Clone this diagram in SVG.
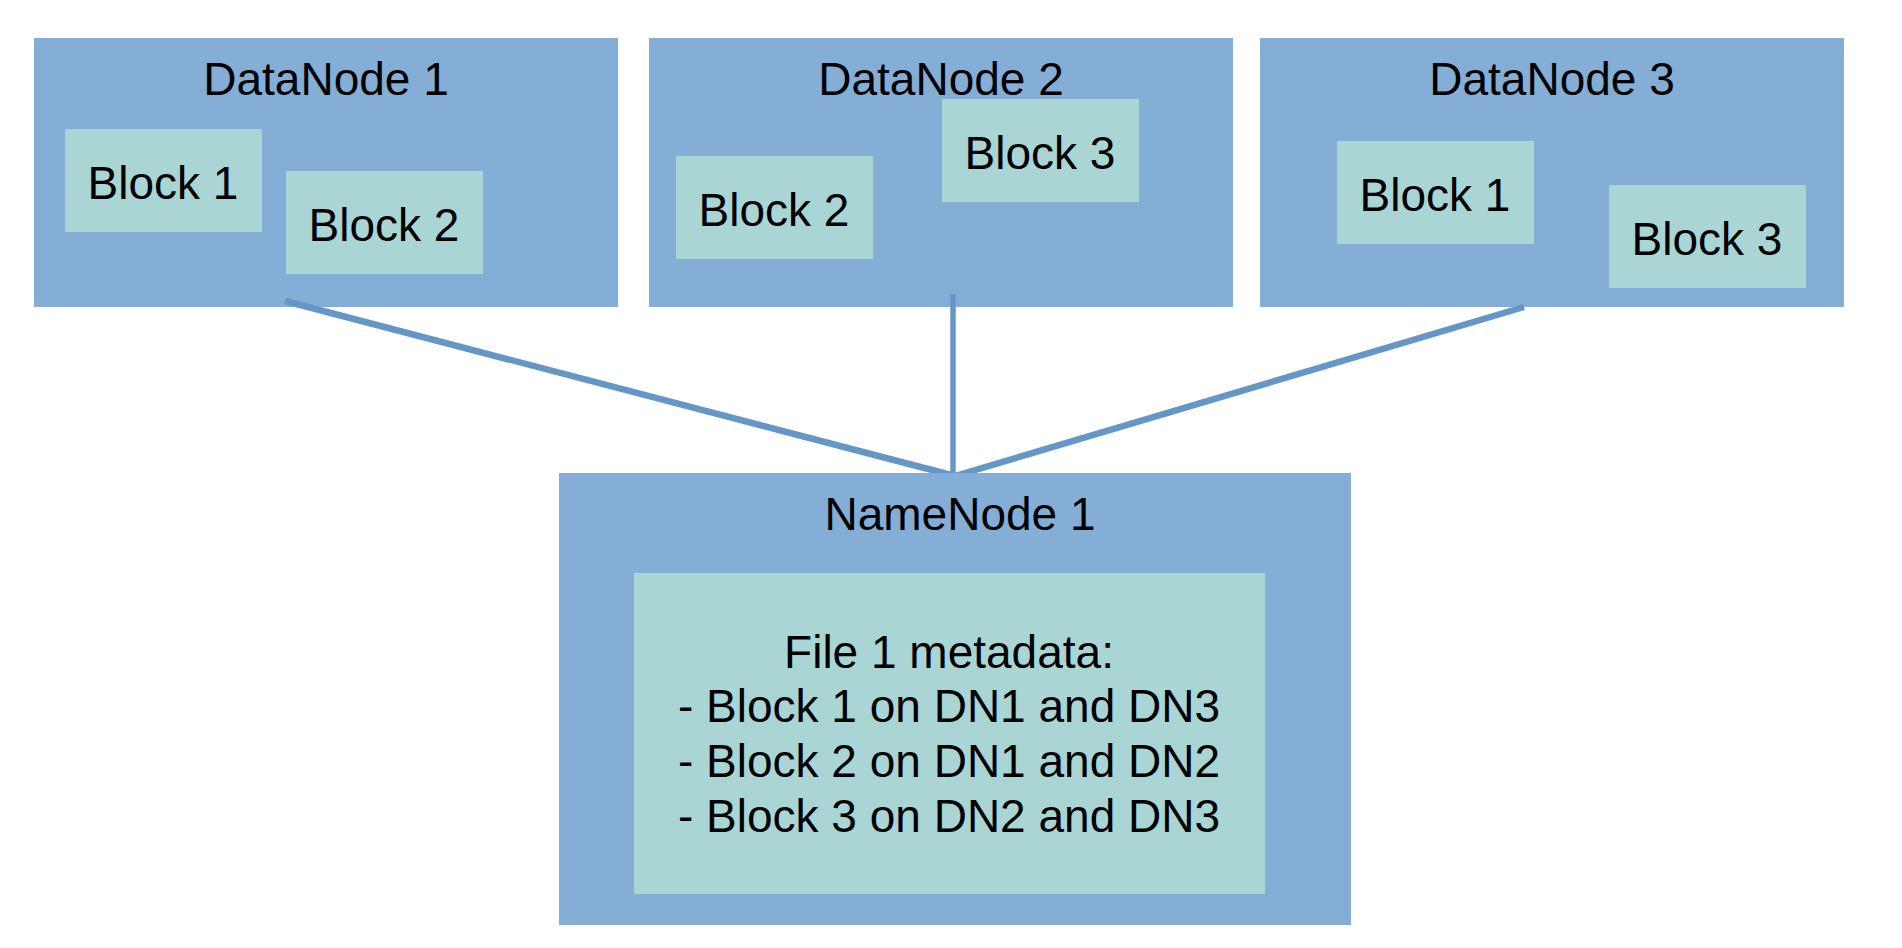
<svg xmlns="http://www.w3.org/2000/svg" width="1902" height="948" viewBox="0 0 1902 948">
<style>
.node{fill:#84AED6;}
.blk{fill:#A9D5D5;}
.t{font-family:"Liberation Sans",Arial,sans-serif;font-size:46px;fill:#000;text-anchor:middle;}
.conn{stroke:#6497C8;stroke-width:6.5;fill:none;}
.vconn{stroke:#6497C8;stroke-width:5.5;fill:none;}
</style>
<rect width="1902" height="948" fill="#fff"/>
<g id="datanode1">
<rect class="node" x="34" y="38" width="584" height="269"/>
<text class="t" x="326" y="95">DataNode 1</text>
<rect class="blk" x="65" y="129" width="197" height="103"/>
<text class="t" x="163" y="199">Block 1</text>
<rect class="blk" x="286" y="171" width="197" height="103"/>
<text class="t" x="384" y="241">Block 2</text>
</g>
<g id="datanode2">
<rect class="node" x="649" y="38" width="584" height="269"/>
<text class="t" x="941" y="95">DataNode 2</text>
<rect class="blk" x="676" y="156" width="197" height="103"/>
<text class="t" x="774" y="226">Block 2</text>
<rect class="blk" x="942" y="99" width="197" height="103"/>
<text class="t" x="1040" y="169">Block 3</text>
</g>
<g id="datanode3">
<rect class="node" x="1260" y="38" width="584" height="269"/>
<text class="t" x="1552" y="95">DataNode 3</text>
<rect class="blk" x="1337" y="141" width="197" height="103"/>
<text class="t" x="1435" y="211">Block 1</text>
<rect class="blk" x="1609" y="185" width="197" height="103"/>
<text class="t" x="1707" y="255">Block 3</text>
</g>
<g id="connectors">
<line class="conn" x1="285" y1="301" x2="955" y2="476"/>
<line class="vconn" x1="953" y1="294" x2="953" y2="478"/>
<line class="conn" x1="1524" y1="307" x2="955" y2="476"/>
</g>
<g id="namenode1">
<rect class="node" x="559" y="473" width="792" height="452"/>
<text class="t" x="960" y="530">NameNode 1</text>
<rect class="blk" x="634" y="573" width="631" height="321"/>
<text class="t" x="949" y="668">File 1 metadata:</text>
<text class="t" x="949" y="722">- Block 1 on DN1 and DN3</text>
<text class="t" x="949" y="777">- Block 2 on DN1 and DN2</text>
<text class="t" x="949" y="832">- Block 3 on DN2 and DN3</text>
</g>
</svg>
